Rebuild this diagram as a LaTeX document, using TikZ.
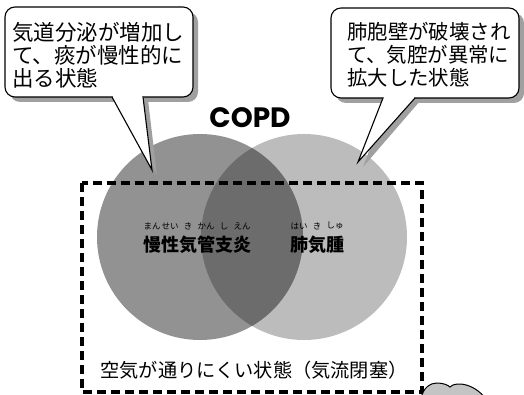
\documentclass[tikz,border=0pt]{standalone}
\usepackage{fontspec}
\newfontfamily\jpfont{Noto Sans CJK JP}
\newfontfamily\copdfont{Poppins}
\definecolor{leftc}{HTML}{929292}
\definecolor{rightc}{HTML}{BCBCBC}
\definecolor{lensc}{HTML}{6C6C6C}
\definecolor{shadowc}{HTML}{A0A0A0}
\definecolor{cloudc}{HTML}{C4C4C4}
\tikzset{
  bubble/.style={draw=black, line width=1.1pt, fill=white, rounded corners=10pt},
  shadowfill/.style={fill=shadowc, rounded corners=10pt},
  tailline/.style={draw=black, line width=1.1pt, line join=miter},
  bubtextL/.style={anchor=west, align=left, inner sep=0pt,
    font={\jpfont\fontsize{21.5pt}{23pt}\selectfont}},
  bubtextR/.style={anchor=west, align=left, inner sep=0pt,
    font={\jpfont\fontsize{20.4pt}{23pt}\selectfont}},
  lbl/.style={inner sep=0pt, font={\jpfont\bfseries\fontsize{18pt}{20pt}\selectfont}},
  ruby/.style={inner sep=0pt, font={\jpfont\fontsize{8.5pt}{9pt}\selectfont}},
  bottxt/.style={inner sep=0pt, font={\jpfont\fontsize{19.2pt}{21pt}\selectfont}},
  dashbox/.style={draw=black, line width=4.8pt, dash pattern=on 9pt off 5pt}
}
\begin{document}
\begin{tikzpicture}[x=1pt,y=-1pt]
\useasboundingbox (0,0) rectangle (524,395);
\fill[white] (0,0) rectangle (524,395);
% Venn circles
\fill[rightc] (304,237) circle (103);
\fill[leftc] (200,237) circle (103);
\begin{scope}
  \clip (200,237) circle (103);
  \fill[lensc] (304,237) circle (103);
\end{scope}
% dashed frame
\draw[dashbox] (82,183) rectangle (422,392);
% cloud at bottom right
\begin{scope}
  \clip (0,0) rectangle (524,395);
  \draw[fill=cloudc, line width=1pt]
    (421,399) .. controls (423,387) and (431,383) .. (437,383)
    .. controls (443,383) and (448,385) .. (450,387)
    .. controls (453,384) and (457,384) .. (461,384)
    .. controls (471,385) and (480,391) .. (486,399) -- cycle;
\end{scope}
% left bubble
\fill[shadowfill] (10,12) rectangle (198,102);
\fill[shadowc] (117,100) -- (157,175) -- (148,100) -- cycle;
\draw[bubble] (5,7) rectangle (193,97);
\fill[white] (112,97) -- (152,170) -- (143,97) -- cycle;
\fill[white] (112.8,95.6) rectangle (142.2,98);
\draw[tailline] (112,97) -- (152,170) -- (143,97);
% right bubble
\fill[shadowfill] (336,13) rectangle (524,103);
\fill[shadowc] (388,101) -- (363,167) -- (420,101) -- cycle;
\draw[bubble] (331,8) rectangle (519,98);
\fill[white] (383,98) -- (358,162) -- (415,98) -- cycle;
\fill[white] (383.6,96.6) rectangle (414.2,99);
\draw[tailline] (383,98) -- (358,162) -- (415,98);
% bubble texts
\node[bubtextL] (tl) at (12,55) {気道分泌が増加し\\て、痰が慢性的に\\出る状態};
\node[bubtextR] (tr) at (347,55) {肺胞壁が破壊され\\て、気腔が異常に\\拡大した状態};
% title
\node[inner sep=0pt, font={\copdfont\bfseries\fontsize{28pt}{30pt}\selectfont}] (copd) at (250,118) {COPD};
% labels
\node[lbl] (cb) at (197.5,245) {慢性気管支炎};
\node[lbl] (em) at (317,245) {肺気腫};
\node[ruby] (r1) at (152,226) {まん};
\node[ruby] (r2) at (170,226) {せい};
\node[ruby] (r3) at (188,226) {き};
\node[ruby] (r4) at (206,226) {かん};
\node[ruby] (r5) at (224,226) {し};
\node[ruby] (r6) at (242,226) {えん};
\node[ruby] (s1) at (299,226) {はい};
\node[ruby] (s2) at (317,226) {き};
\node[ruby] (s3) at (335,226) {しゅ};
% bottom text
\node[bottxt] (air) at (254,370) {空気が通りにくい状態（気流閉塞）};
\end{tikzpicture}
\end{document}
